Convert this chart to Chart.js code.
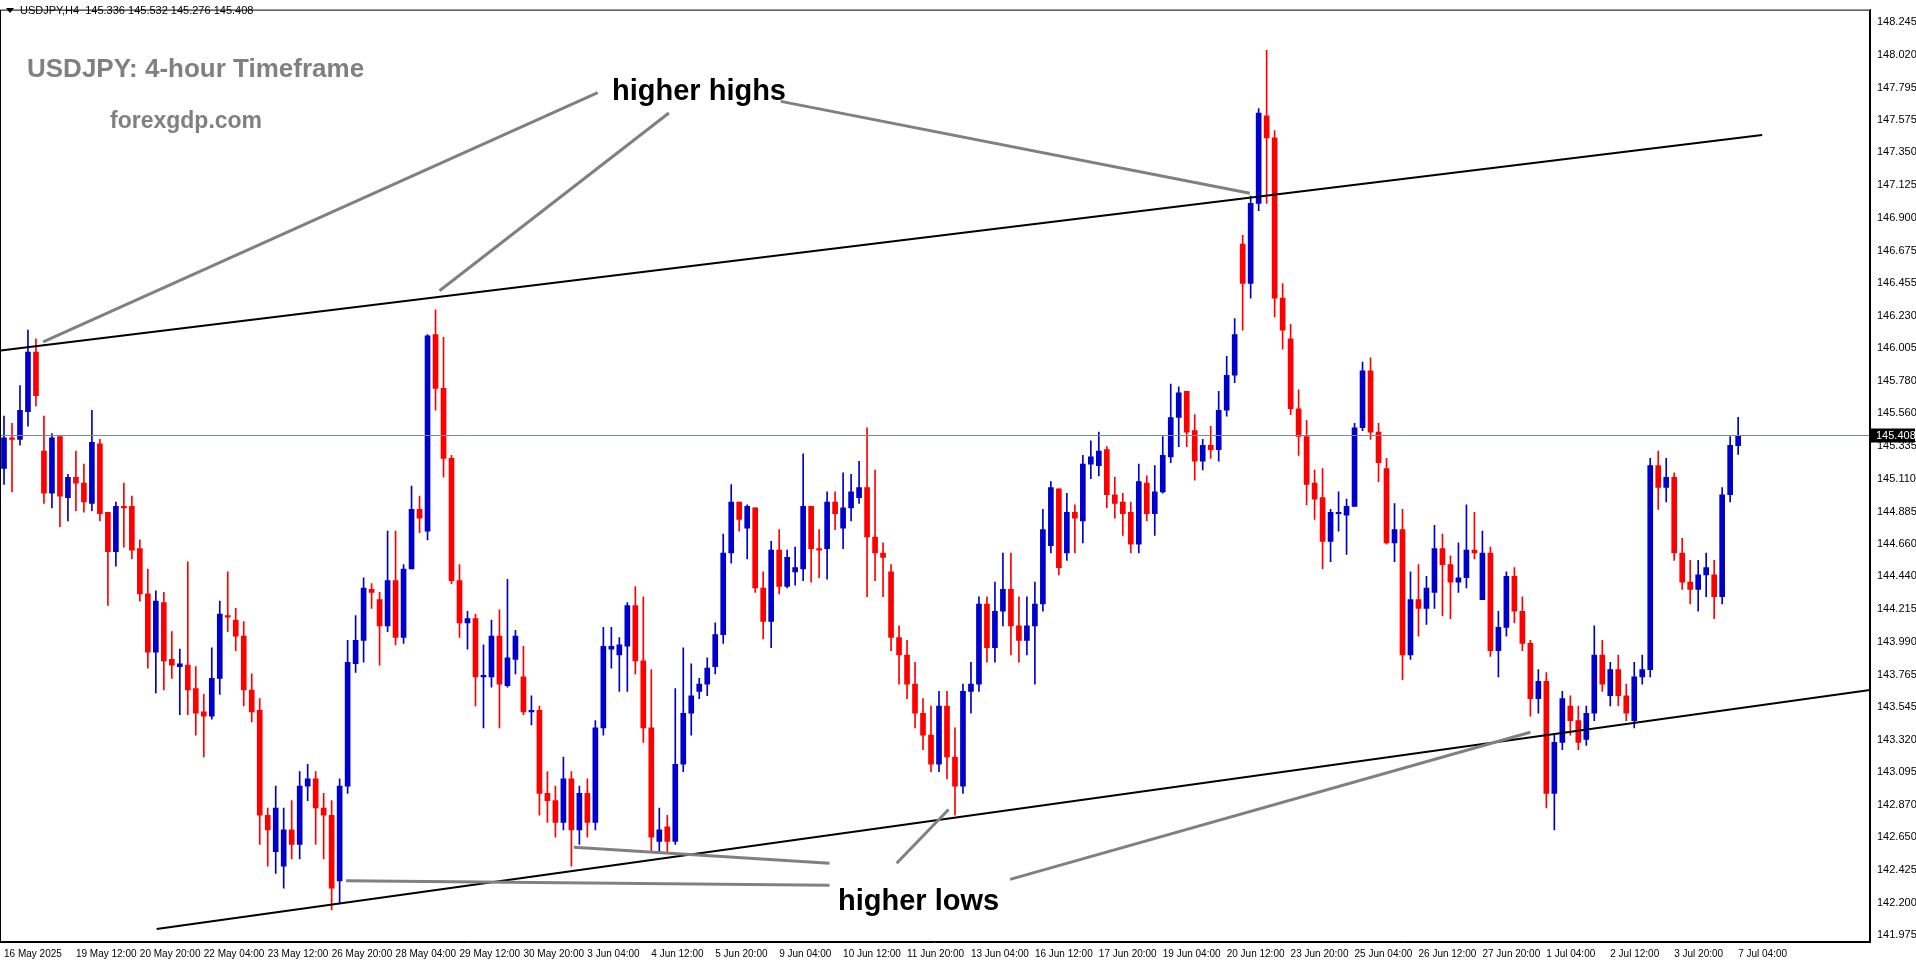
<!DOCTYPE html>
<html>
<head>
  <meta charset="UTF-8">
  <title>USDJPY H4</title>
  <script src="https://cdn.jsdelivr.net/npm/chart.js"></script>
  <style>
    html, body { margin: 0; padding: 0; background: #fff; overflow: hidden; }
    canvas { display: block; }
  </style>
</head>
<body>
  <canvas id="c" width="1916" height="964"></canvas>
  <script>
    // candles (4-hour bars)
    const opens = [
      145.18,145.39,145.38,145.57,145.98,145.30,145.01,145.40,144.98,145.12,145.08,144.94,145.35,144.88,144.61,144.92,144.92,144.63,144.32,143.92,
      144.26,143.87,143.82,143.83,143.67,143.51,143.48,143.74,144.17,144.14,144.03,143.66,143.52,142.80,142.55,142.45,142.70,142.60,143.00,143.05,
      142.85,142.80,142.35,143.00,143.84,144.00,144.35,144.28,144.10,144.41,144.02,144.49,144.90,144.75,146.10,145.73,145.25,144.41,144.12,144.15,
      143.75,143.75,144.03,143.69,143.87,143.75,143.51,143.52,142.95,142.90,142.75,143.05,142.70,142.95,142.75,143.40,143.94,143.90,143.96,144.24,
      143.86,143.40,142.62,142.72,142.62,143.15,143.50,143.65,143.70,143.82,144.04,144.60,144.95,144.77,144.91,144.36,144.13,144.62,144.37,144.47,
      144.49,144.92,144.63,144.63,144.95,144.77,144.91,144.98,145.05,144.71,144.60,144.47,144.02,143.90,143.70,143.50,143.35,143.15,143.55,143.20,
      143.00,143.65,143.70,144.25,143.95,144.20,144.35,144.10,144.00,144.10,144.25,144.65,145.04,144.60,144.88,144.82,145.21,145.20,145.31,145.00,
      144.95,144.88,144.66,145.08,144.87,145.02,145.26,145.53,145.71,145.44,145.23,145.34,145.31,145.58,145.82,146.72,146.45,147.00,147.60,147.45,
      146.35,146.07,145.59,145.40,145.08,144.98,144.68,144.87,144.86,144.92,145.46,145.85,145.43,145.18,144.67,144.76,143.90,144.28,144.22,144.33,
      144.63,144.52,144.40,144.43,144.62,144.28,144.60,143.93,144.09,144.44,144.20,143.98,143.60,143.72,142.95,143.30,143.55,143.45,143.32,143.50,
      143.90,143.62,143.80,143.62,143.45,143.75,143.80,145.20,145.05,145.12,144.60,144.40,144.35,144.45,144.45,144.30,145.00,145.336
    ];
    const highs = [
      145.54,145.49,145.75,146.13,146.07,145.54,145.42,145.40,145.14,145.30,145.21,145.58,145.38,144.88,144.95,145.08,144.99,144.69,144.49,144.34,
      144.33,144.06,143.94,144.54,143.82,143.63,143.95,144.27,144.47,144.22,144.13,143.77,143.60,142.85,143.00,142.85,142.90,143.10,143.15,143.10,
      142.95,142.90,143.05,144.00,144.17,144.43,144.39,144.33,144.75,144.75,144.52,145.06,144.99,146.10,146.27,146.08,145.27,144.52,144.20,144.18,
      143.97,144.14,144.21,144.42,144.07,143.96,143.62,143.55,143.10,143.00,143.20,143.10,143.00,143.05,143.45,144.09,144.09,144.02,144.26,144.37,
      144.30,143.80,142.85,142.80,143.67,143.95,143.84,143.74,143.88,144.12,144.73,145.07,144.95,144.93,144.91,144.47,144.68,144.76,144.62,144.64,
      145.28,144.92,144.76,145.02,145.02,145.15,145.14,145.23,145.46,145.17,144.67,144.52,144.10,144.00,143.85,143.60,143.55,143.65,143.65,143.40,
      143.70,143.85,144.30,144.30,144.40,144.60,144.60,144.30,144.30,144.40,144.90,145.09,145.04,145.01,144.93,145.27,145.37,145.43,145.33,145.12,
      145.01,144.95,145.21,145.13,145.20,145.40,145.76,145.74,145.71,145.55,145.38,145.47,145.71,145.95,146.21,146.78,147.05,147.65,148.05,147.50,
      146.45,146.17,145.72,145.51,145.17,145.18,144.90,145.02,144.97,145.49,145.91,145.94,145.49,145.25,144.94,144.90,144.47,144.52,144.44,144.79,
      144.73,144.58,144.67,144.93,144.88,144.75,144.64,144.20,144.47,144.50,144.30,144.00,143.80,143.78,143.35,143.65,143.62,143.55,143.55,144.10,
      144.00,143.85,143.90,143.70,143.85,143.90,145.25,145.30,145.25,145.15,144.70,144.55,144.55,144.60,144.55,145.05,145.40,145.532
    ];
    const lows = [
      145.07,145.02,145.34,145.47,145.61,144.94,144.91,144.78,144.82,144.89,144.88,144.89,144.82,144.24,144.51,144.64,144.56,144.27,143.81,143.64,
      143.66,143.74,143.49,143.49,143.35,143.20,143.46,143.63,144.06,143.93,143.55,143.44,142.60,142.45,142.40,142.30,142.50,142.50,142.90,142.60,
      142.50,142.15,142.20,142.95,143.78,143.85,144.22,143.83,144.06,143.97,143.98,144.49,144.74,144.69,145.58,145.12,144.39,144.02,143.94,143.55,
      143.40,143.68,143.40,143.68,143.77,143.49,143.42,142.80,142.75,142.65,142.70,142.45,142.60,142.65,142.70,143.35,143.81,143.65,143.65,143.77,
      143.30,142.55,142.55,142.55,142.60,143.10,143.35,143.60,143.62,143.77,143.98,144.53,144.75,144.56,144.33,144.01,143.95,144.32,144.36,144.38,
      144.41,144.40,144.43,144.42,144.76,144.63,144.82,144.94,144.30,144.41,144.30,143.93,143.70,143.60,143.40,143.25,143.10,143.10,143.05,142.80,
      142.95,143.50,143.65,143.85,143.85,144.10,143.90,143.85,143.90,143.70,144.20,144.60,144.45,144.55,144.60,144.67,145.11,145.13,144.91,144.84,
      144.72,144.60,144.60,144.82,144.72,145.01,145.22,145.33,145.33,145.10,145.17,145.25,145.23,145.54,145.77,146.13,146.35,146.95,147.00,146.22,
      146.00,145.55,145.27,144.93,144.83,144.49,144.54,144.75,144.59,144.92,145.44,145.38,145.09,144.66,144.54,143.73,143.87,144.03,144.11,144.22,
      144.17,144.15,144.33,144.36,144.56,144.28,143.89,143.75,144.03,144.12,143.93,143.48,143.50,142.85,142.70,143.25,143.35,143.25,143.28,143.45,
      143.65,143.55,143.55,143.45,143.40,143.70,143.75,144.90,144.95,144.55,144.35,144.25,144.20,144.30,144.15,144.25,144.95,145.276
    ];
    const closes = [
      145.39,145.38,145.58,145.98,145.68,145.01,145.39,144.99,145.12,145.08,144.95,145.36,144.87,144.61,144.92,144.91,144.62,144.32,143.92,144.27,
      143.86,143.83,143.84,143.66,143.50,143.48,143.74,144.18,144.16,144.03,143.66,143.51,142.80,142.70,142.85,142.70,142.60,143.00,143.05,142.85,
      142.80,142.30,143.00,143.85,144.00,144.36,144.33,144.10,144.41,144.02,144.49,144.90,144.84,146.09,145.73,145.25,144.41,144.12,144.15,143.75,
      143.76,144.03,143.70,143.88,144.03,143.51,143.52,142.95,142.90,142.75,143.05,142.70,142.95,142.75,143.40,143.96,143.96,143.97,144.24,143.86,
      143.40,142.65,142.70,142.62,143.15,143.50,143.62,143.70,143.81,144.04,144.60,144.95,144.83,144.92,144.36,144.13,144.62,144.37,144.57,144.50,
      144.92,144.63,144.62,144.95,144.87,144.91,145.02,145.05,144.71,144.60,144.57,144.02,143.90,143.70,143.50,143.35,143.15,143.55,143.20,143.00,
      143.65,143.70,144.25,143.95,144.20,144.35,144.10,144.00,144.10,144.25,144.76,145.05,144.50,144.88,144.84,145.21,145.26,145.30,145.00,144.94,
      144.87,144.66,145.09,144.87,145.02,145.27,145.53,145.70,145.43,145.23,145.34,145.31,145.58,145.82,146.10,146.45,147.00,147.62,147.45,146.35,
      146.13,145.59,145.40,145.07,144.97,144.68,144.88,144.88,144.92,145.46,145.85,145.43,145.22,144.67,144.76,143.90,144.28,144.22,144.36,144.63,
      144.52,144.40,144.43,144.62,144.60,144.60,143.93,144.09,144.44,144.20,143.98,143.60,143.72,142.95,143.30,143.60,143.45,143.30,143.50,143.90,
      143.70,143.80,143.62,143.50,143.75,143.80,145.20,145.05,145.12,144.60,144.40,144.35,144.45,144.50,144.30,145.00,145.34,145.408
    ];
    // x-axis dates: first label at bar 0, then every 8 bars from bar 9
    const dateLabels = [
      '19 May 12:00','20 May 20:00','22 May 04:00','23 May 12:00','26 May 20:00','28 May 04:00','29 May 12:00',
      '30 May 20:00','3 Jun 04:00','4 Jun 12:00','5 Jun 20:00','9 Jun 04:00','10 Jun 12:00','11 Jun 20:00',
      '13 Jun 04:00','16 Jun 12:00','17 Jun 20:00','19 Jun 04:00','20 Jun 12:00','23 Jun 20:00','25 Jun 04:00',
      '26 Jun 12:00','27 Jun 20:00','1 Jul 04:00','2 Jul 12:00','3 Jul 20:00','7 Jul 04:00'
    ];
    const priceTicks = [148.245,148.020,147.795,147.575,147.350,147.125,146.900,146.675,146.455,146.230,146.005,145.780,
      145.560,145.335,145.110,144.885,144.660,144.440,144.215,143.990,143.765,143.545,143.320,143.095,142.870,142.650,
      142.425,142.200,141.975];
    const lastPrice = 145.408;
    // trend lines and pointer lines as [bar, price] pairs
    const channelTop = [[-0.4, 145.99], [220, 147.47]];
    const channelBottom = [[19.1, 142.02], [233.5, 143.66]];
    const pointers = [
      [[4.9, 146.05], [74.3, 147.76]],
      [[54.5, 146.40], [83.2, 147.62]],
      [[97.2, 147.70], [155.9, 147.07]],
      [[42.8, 142.35], [103.3, 142.32]],
      [[71.3, 142.58], [103.3, 142.47]],
      [[111.7, 142.47], [118.2, 142.84]],
      [[125.9, 142.36], [191.0, 143.37]]
    ];

    const axisFont = '"Liberation Sans", Arial, sans-serif';
    const totalSlots = 234;
    const labels = [];
    for (let i = 0; i < totalSlots; i++) labels.push('');
    labels[0] = '16 May 2025';
    dateLabels.forEach((d, k) => { labels[9 + k * 8] = d; });

    const up = opens.map((o, i) => closes[i] >= o);
    const colors = up.map(u => u ? '#0000cc' : '#ff0000');

    const overlay = {
      id: 'overlay',
      afterDatasetsDraw(chart) {
        const { ctx, chartArea: a, scales: { x, y } } = chart;
        const px = i => x.getPixelForValue(0) + i * (x.getPixelForValue(1) - x.getPixelForValue(0));
        const seg = (p, color, w) => {
          ctx.beginPath();
          ctx.moveTo(px(p[0][0]), y.getPixelForValue(p[0][1]));
          ctx.lineTo(px(p[1][0]), y.getPixelForValue(p[1][1]));
          ctx.strokeStyle = color; ctx.lineWidth = w; ctx.stroke();
        };
        ctx.save();
        ctx.beginPath(); ctx.rect(a.left, a.top, a.width, a.height); ctx.clip();
        // current price line
        const ly = Math.round(y.getPixelForValue(lastPrice)) + 0.5;
        ctx.beginPath(); ctx.moveTo(a.left, ly); ctx.lineTo(a.right, ly);
        ctx.strokeStyle = '#778899'; ctx.lineWidth = 1; ctx.stroke();
        seg(channelTop, '#000', 2);
        seg(channelBottom, '#000', 2);
        pointers.forEach(p => seg(p, '#808080', 3));
        ctx.restore();

        ctx.save();
        ctx.fillStyle = '#808080';
        ctx.font = 'bold 26px "Liberation Sans", Arial, sans-serif';
        ctx.textBaseline = 'middle';
        ctx.fillText('USDJPY: 4-hour Timeframe', 27, 70);
        ctx.font = 'bold 23px "Liberation Sans", Arial, sans-serif';
        ctx.fillText('forexgdp.com', 110, 122);
        ctx.fillStyle = '#000';
        ctx.font = 'bold 29px "Liberation Sans", Arial, sans-serif';
        ctx.fillText('higher highs', 612, 92);
        ctx.fillText('higher lows', 838, 902);
        // header
        ctx.font = '11px ' + axisFont;
        ctx.fillText('USDJPY,H4  145.336 145.532 145.276 145.408', 20, 11);
        ctx.beginPath(); ctx.moveTo(6, 8); ctx.lineTo(14, 8); ctx.lineTo(10, 13); ctx.closePath(); ctx.fill();
        // frame
        ctx.strokeStyle = '#000'; ctx.lineWidth = 1;
        ctx.strokeRect(a.left + 0.5, a.top + 0.5, a.width - 1, a.height - 1);
        // price box
        ctx.fillStyle = '#000';
        ctx.fillRect(a.right + 1, ly - 7, 44, 14);
        ctx.fillStyle = '#fff';
        ctx.font = '11px ' + axisFont;
        ctx.fillText(lastPrice.toFixed(3), a.right + 6, ly);
        ctx.restore();
      }
    };

    new Chart(document.getElementById('c'), {
      type: 'bar',
      data: {
        labels: labels,
        datasets: [
          {
            label: 'wick',
            data: highs.map((h, i) => [lows[i], h]),
            backgroundColor: colors,
            barThickness: 1,
            grouped: false,
            order: 2
          },
          {
            label: 'body',
            data: opens.map((o, i) => [o, closes[i]]),
            backgroundColor: colors,
            barThickness: 5,
            minBarLength: 1,
            grouped: false,
            order: 1
          }
        ]
      },
      options: {
        responsive: false,
        animation: false,
        devicePixelRatio: 1,
        layout: { padding: { top: 2, left: 0, right: 0, bottom: 0 } },
        plugins: { legend: { display: false }, tooltip: { enabled: false } },
        scales: {
          x: {
            grid: { display: false, tickLength: 4, color: '#000' },
            border: { color: '#000' },
            ticks: {
              autoSkip: false, maxRotation: 0, align: 'start', padding: 2,
              color: '#000', font: { size: 10, family: axisFont },
              callback: (v, i) => labels[i] || null
            },
            afterFit: s => { s.height = 22; }
          },
          y: {
            position: 'right',
            min: 141.93, max: 148.33,
            grid: { display: false, tickLength: 4, color: '#000' },
            border: { color: '#000' },
            afterBuildTicks: s => { s.ticks = priceTicks.map(v => ({ value: v })); },
            ticks: {
              color: '#000', padding: 3,
              font: { size: 11, family: axisFont },
              callback: v => v.toFixed(3)
            },
            afterFit: s => { s.width = 46; }
          }
        }
      },
      plugins: [overlay]
    });
  </script>
</body>
</html>
